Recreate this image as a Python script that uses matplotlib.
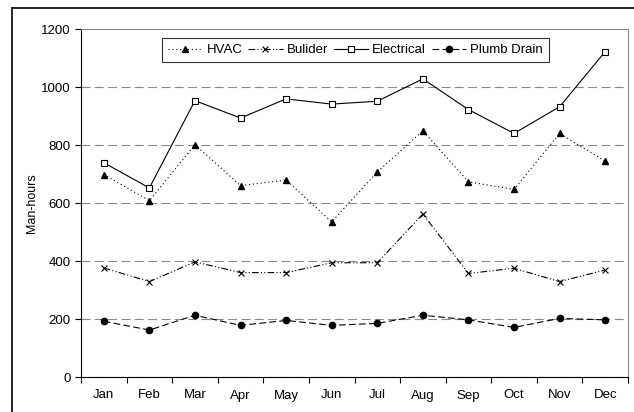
import numpy as np
import matplotlib.pyplot as plt
from matplotlib.lines import Line2D

plt.rcParams['font.family'] = ['Liberation Sans', 'DejaVu Sans']

months = ['Jan', 'Feb', 'Mar', 'Apr', 'May', 'Jun', 'Jul', 'Aug', 'Sep', 'Oct', 'Nov', 'Dec']
hvac = [698, 608, 801, 660, 679, 535, 707, 849, 673, 647, 840, 744]
builder = [376, 329, 397, 360, 360, 394, 394, 562, 357, 375, 329, 369]
electrical = [739, 652, 953, 893, 959, 941, 951, 1028, 922, 840, 932, 1122]
plumb = [192, 162, 213, 178, 195, 178, 185, 213, 197, 171, 202, 197]

W, H = 634, 412
fig = plt.figure(figsize=(W / 100, H / 100), dpi=100)
ax = fig.add_axes([81 / W, 1 - 377 / H, (628 - 81) / W, (377 - 29) / H])

x = np.arange(len(months))
lw = 0.8
ax.plot(x, hvac, color='black', lw=lw, ls=(0, (1, 2.5)), marker='^', ms=5,
        label='HVAC')
ax.plot(x, builder, color='black', lw=lw, ls=(0, (6, 2, 1, 2, 1, 2)), marker='x',
        ms=5, mew=0.8, label='Bulider')
ax.plot(x, electrical, color='black', lw=lw, ls='-', marker='s', ms=5,
        mfc='white', mew=0.8, label='Electrical')
ax.plot(x, plumb, color='black', lw=lw, ls=(0, (6, 3)), marker='o', ms=4.5,
        label='Plumb Drain')

ax.set_xlim(-0.5, len(months) - 0.5)
ax.set_ylim(0, 1200)
ax.set_yticks(range(0, 1201, 200))
ax.set_xticks(x)
ax.set_xticklabels(months)
ax.set_xticks(np.arange(-0.5, len(months)), minor=True)
ax.tick_params(axis='x', which='major', length=0, pad=9, labelsize=9.5)
ax.tick_params(axis='x', which='minor', length=4, width=0.8, direction='out')
ax.tick_params(axis='y', length=4, width=0.8, direction='out', labelsize=9.5)
ax.yaxis.grid(True, color='#888888', ls=(0, (8, 4)), lw=0.8)
ax.set_axisbelow(True)
for s in ['top', 'right']:
    ax.spines[s].set_color('#888888')
    ax.spines[s].set_linewidth(0.8)
for s in ['left', 'bottom']:
    ax.spines[s].set_linewidth(0.8)
ax.set_ylabel('Man-hours', fontsize=9, labelpad=2)

leg = ax.legend(loc='upper center', bbox_to_anchor=(0.502, 0.974), ncol=4,
                fontsize=9.5, frameon=True, fancybox=False, handlelength=2.6,
                columnspacing=0.45, handletextpad=0.3, borderpad=0.45,
                borderaxespad=0)
leg.get_frame().set_edgecolor('black')
leg.get_frame().set_linewidth(0.8)

# outer chart border (cropped at right/bottom)
fig.add_artist(Line2D([12 / W, 12 / W], [0, 1 - 8 / H], color='black', lw=1.2,
                      transform=fig.transFigure))
fig.add_artist(Line2D([12 / W, 1], [1 - 8 / H, 1 - 8 / H], color='black', lw=1.2,
                      transform=fig.transFigure))

fig.savefig('out.png', dpi=100)
